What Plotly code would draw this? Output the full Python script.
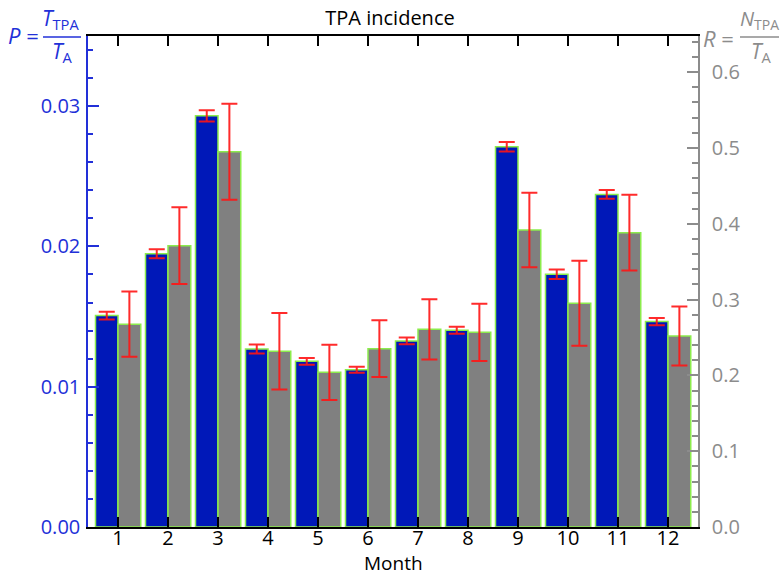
import plotly.graph_objects as go

months = list(range(1, 13))
month_labels = [str(m) for m in months]
P = [0.01507, 0.01948, 0.02931, 0.01269, 0.01181, 0.01121, 0.01326, 0.01402, 0.02710, 0.01802, 0.02371, 0.01464]
P_err = [0.00027, 0.00032, 0.00040, 0.00032, 0.00024, 0.00021, 0.00024, 0.00025, 0.00034, 0.00034, 0.00032, 0.00025]
R = [0.2675, 0.3710, 0.4949, 0.2317, 0.2040, 0.2351, 0.2607, 0.2567, 0.3917, 0.2950, 0.3881, 0.2519]
R_err = [0.0431, 0.0506, 0.0633, 0.0505, 0.0365, 0.0374, 0.0398, 0.0378, 0.0490, 0.0560, 0.0499, 0.0389]

W, H = 780, 577
L, Rm, T, B = 88, 82, 36, 50
PW, PH = W - L - Rm, H - T - B

FONT = "Open Sans"
BLUE_TXT = "#2230d8"
GRAY_TXT = "#8c8c8c"
BAR_LINE = "#8cec4c"
ERR = "rgba(255,20,20,0.9)"


def px(x):
    return (x - L) / PW


def py(y):
    return (H - B - y) / PH


fig = go.Figure()
fig.add_trace(go.Bar(
    x=months, y=P, offset=-0.45, width=0.45, yaxis="y",
    marker=dict(color="#0018b8", line=dict(color=BAR_LINE, width=1.5)),
    error_y=dict(type="data", array=P_err, color=ERR, thickness=2, width=8),
    showlegend=False,
))
fig.add_trace(go.Bar(
    x=months, y=R, offset=0.0, width=0.455, yaxis="y2",
    marker=dict(color="#808080", line=dict(color=BAR_LINE, width=1.5)),
    error_y=dict(type="data", array=R_err, color=ERR, thickness=2, width=8),
    showlegend=False,
))

fig.update_layout(
    width=W, height=H,
    margin=dict(l=L, r=Rm, t=T, b=B, pad=0, autoexpand=False),
    plot_bgcolor="white", paper_bgcolor="white",
    font=dict(family=FONT, size=20, color="black"),
    barmode="overlay",
    title=dict(text="TPA incidence", x=px(393), xanchor="center", y=1 - 18 / H, yanchor="middle",
               font=dict(size=20, color="black"), automargin=False),
    xaxis=dict(
        range=[0.4, 12.6], tickmode="array", tickvals=months, ticktext=month_labels,
        ticks="inside", ticklen=10, tickwidth=1.5, tickcolor="black",
        showline=True, linecolor="black", linewidth=1.5, mirror="ticks",
        showgrid=False, zeroline=False, automargin=False,
        tickfont=dict(size=20, color="black"),
        ticklabelstandoff=-8,
    ),
    yaxis=dict(
        range=[0, 0.035], tickvals=[0, 0.01, 0.02, 0.03], tickformat=".2f",
        ticks="inside", ticklen=11, tickwidth=1.5, tickcolor=BLUE_TXT,
        minor=dict(dtick=0.002, tick0=0, ticks="inside", ticklen=5, tickcolor=BLUE_TXT, tickwidth=1.5, showgrid=False),
        showline=True, linecolor=BLUE_TXT, linewidth=1.5,
        showgrid=False, zeroline=False, automargin=False,
        tickfont=dict(size=20, color=BLUE_TXT),
        ticklabelstandoff=2,
    ),
    yaxis2=dict(
        range=[0, 0.6475], overlaying="y", side="right",
        tickvals=[0, 0.1, 0.2, 0.3, 0.4, 0.5, 0.6], tickformat=".1f",
        ticks="inside", ticklen=11, tickwidth=1.5, tickcolor=GRAY_TXT,
        minor=dict(dtick=0.02, tick0=0, ticks="inside", ticklen=6, tickcolor=GRAY_TXT, tickwidth=1.5, showgrid=False),
        showline=True, linecolor=GRAY_TXT, linewidth=1.5,
        showgrid=False, zeroline=False, automargin=False,
        tickfont=dict(size=20, color=GRAY_TXT),
        ticklabelstandoff=8,
    ),
)

anns = [
    # x-axis title
    dict(text="Month", x=px(393), y=py(577), xanchor="center", yanchor="bottom", color="black", size=19),
    # left label: P = T_TPA / T_A
    dict(text="<i>P</i> =", x=px(40), y=py(35), xanchor="right", yanchor="middle", color=BLUE_TXT, size=22),
    dict(text="<i>T</i><sub>TPA</sub>", x=px(60), y=py(19), xanchor="center", yanchor="middle", color=BLUE_TXT, size=21),
    dict(text="<i>T</i><sub>A</sub>", x=px(62), y=py(52), xanchor="center", yanchor="middle", color=BLUE_TXT, size=21),
    # right label: R = N_TPA / T_A
    dict(text="<i>R</i> =", x=px(735), y=py(38), xanchor="right", yanchor="middle", color=GRAY_TXT, size=22),
    dict(text="<i>N</i><sub>TPA</sub>", x=px(759), y=py(19), xanchor="center", yanchor="middle", color=GRAY_TXT, size=20),
    dict(text="<i>T</i><sub>A</sub>", x=px(761), y=py(52), xanchor="center", yanchor="middle", color=GRAY_TXT, size=21),
]
for a in anns:
    fig.add_annotation(text=a["text"], x=a["x"], y=a["y"], xref="paper", yref="paper",
                       xanchor=a["xanchor"], yanchor=a["yanchor"], showarrow=False, borderpad=0,
                       font=dict(family=FONT, size=a["size"], color=a["color"]))

fig.add_shape(type="line", xref="paper", yref="paper", x0=px(43), x1=px(81), y0=py(37), y1=py(37),
              line=dict(color=BLUE_TXT, width=1.5))
fig.add_shape(type="line", xref="paper", yref="paper", x0=px(740), x1=px(779), y0=py(37), y1=py(37),
              line=dict(color=GRAY_TXT, width=1.5))

fig.write_html("out.html")
